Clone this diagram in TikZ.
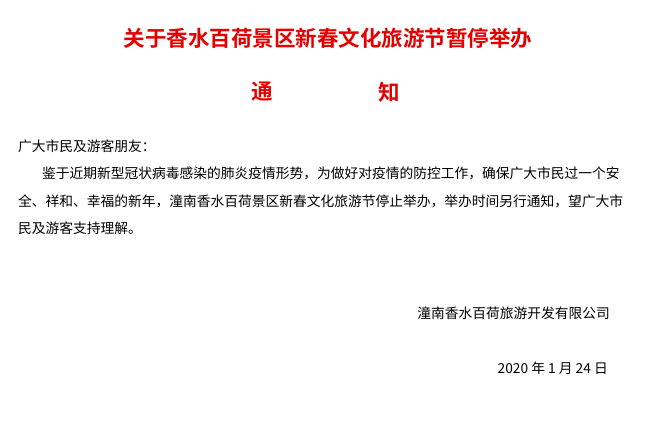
\documentclass[tikz,border=0pt]{standalone}
\usepackage{fontspec}
\setmainfont{Noto Sans CJK SC}
\newfontfamily\cjkbold{Noto Sans CJK SC Bold}
\definecolor{titlered}{RGB}{228,0,0}
\begin{document}
\begin{tikzpicture}[x=1pt,y=1pt,
  title/.style={text=titlered,font=\cjkbold\fontsize{21.5}{24}\selectfont,inner sep=0},
  body/.style={anchor=west,font=\fontsize{13.75}{16}\selectfont,inner sep=0}]
\fill[white] (0,0) rectangle (656,-438);
\useasboundingbox (0,0) rectangle (656,-438);
\node[title] (t) at (328,-38) {关于香水百荷景区新春文化旅游节暂停举办};
\node[title] (n1) at (262,-92) {通};
\node[title] (n2) at (389,-92) {知};
\node[body] (g) at (18,-146) {广大市民及游客朋友：};
\node[body] (l1) at (42,-173) {鉴于近期新型冠状病毒感染的肺炎疫情形势，为做好对疫情的防控工作，确保广大市民过一个安};
\node[body] (l2) at (18,-201) {全、祥和、幸福的新年，潼南香水百荷景区新春文化旅游节停止举办，举办时间另行通知，望广大市};
\node[body] (l3) at (18,-228) {民及游客支持理解。};
\node[body,anchor=east] (s) at (610,-313) {潼南香水百荷旅游开发有限公司};
\node[body,anchor=east] (d) at (608,-368) {2020 年 1 月 24 日};
\end{tikzpicture}
\end{document}
